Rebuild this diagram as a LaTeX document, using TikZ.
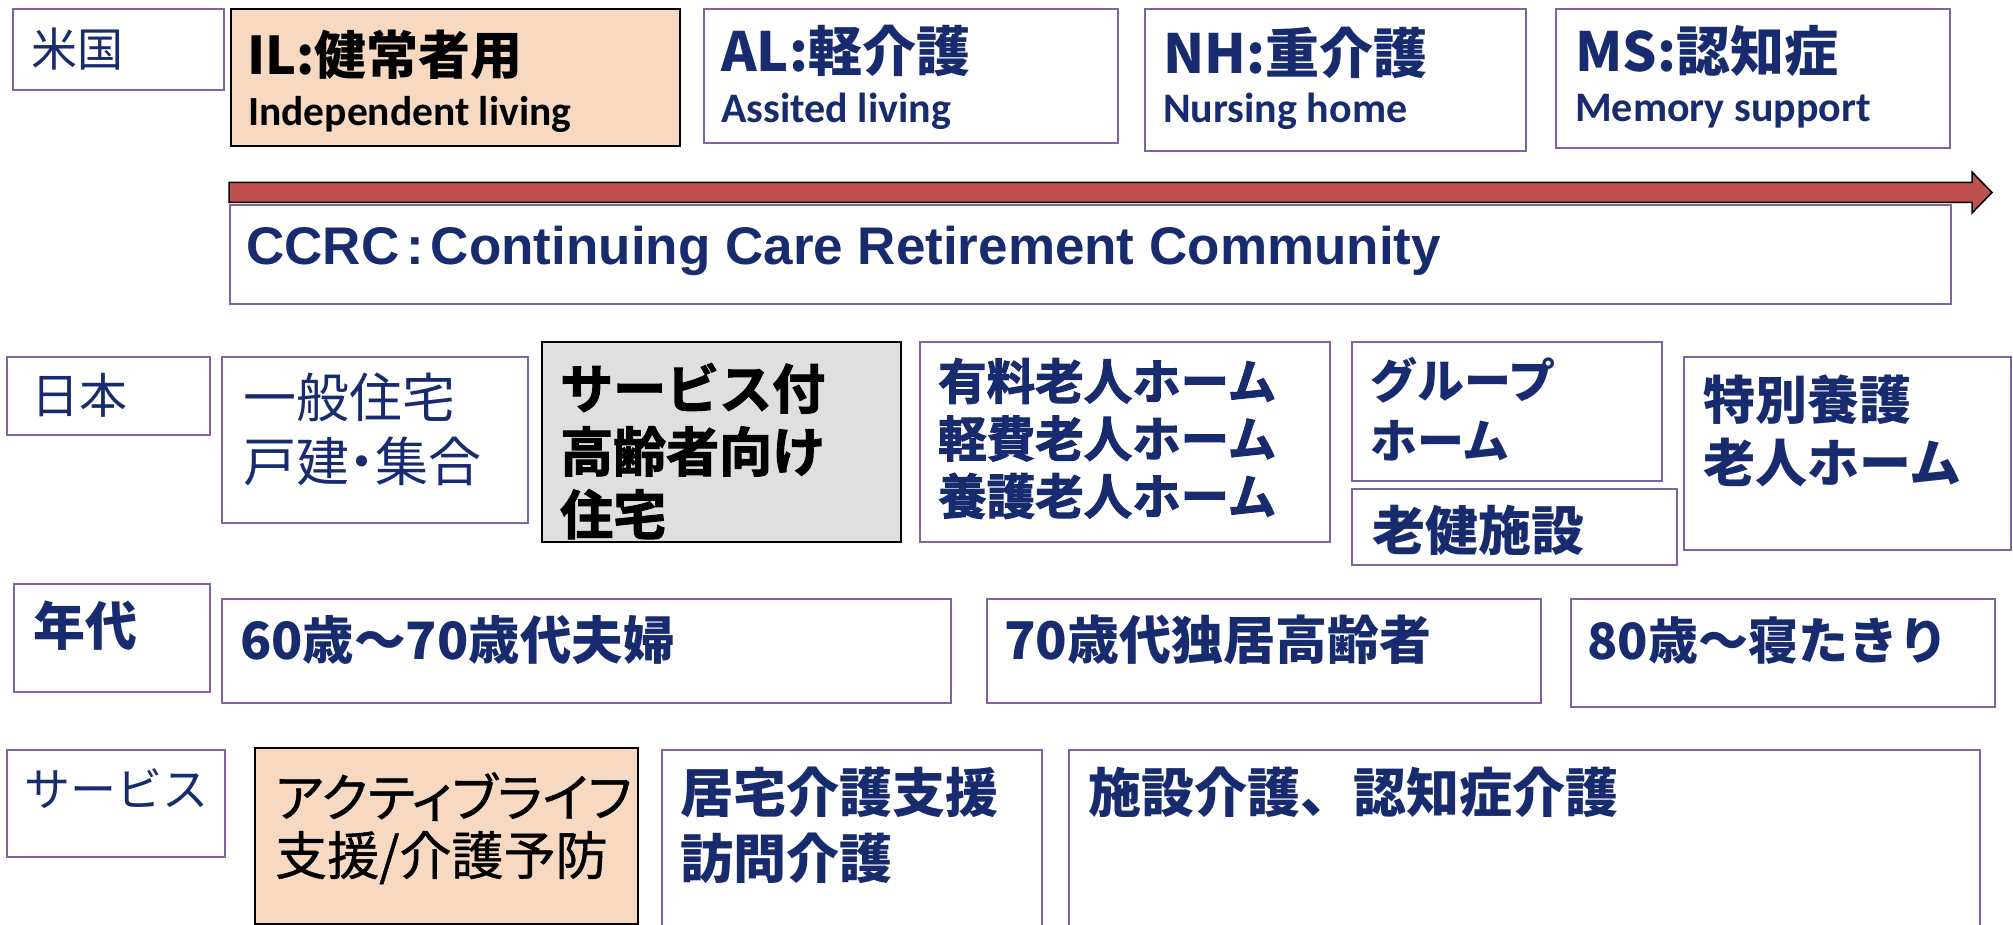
\documentclass[tikz,border=0pt]{standalone}
\usepackage{fontspec}
\newfontfamily\jpfont{Noto Sans CJK JP}
\newfontfamily\jppfont[RawFeature=+palt]{Noto Sans CJK JP}
\newfontfamily\jppmed[RawFeature=+palt, FakeBold=0.8]{Noto Sans CJK JP}
\newfontfamily\jpheavy[FakeBold=2.2]{Noto Sans CJK JP Bold}
\newfontfamily\calfont{Carlito}
\newfontfamily\arifont{Liberation Sans}
\newcommand\fz[2]{\fontsize{#1}{#2}\selectfont}
\definecolor{navy}{HTML}{182B6E}
\definecolor{boxpurple}{HTML}{8064A2}
\definecolor{peach}{HTML}{F6D9C0}
\definecolor{lgray}{HTML}{DFDFDF}
\definecolor{arrowred}{HTML}{C0504D}
\tikzset{
  pbox/.style={draw=boxpurple, line width=2pt, fill=white, inner sep=0pt, anchor=north west},
  kbox/.style={draw=black, line width=2pt, inner sep=0pt, anchor=north west},
  lbl/.style={inner sep=0pt, anchor=north west, align=left, text=navy},
}
\begin{document}
\begin{tikzpicture}[x=1pt,y=-1pt]
\useasboundingbox (0,0) rectangle (2013,925);
\clip (0,0) rectangle (2013,925);
% ---- boxes ----
\node[pbox, minimum width=211pt, minimum height=81pt] (us) at (12,8) {};
\node[kbox, fill=peach, minimum width=449pt, minimum height=137pt] (il) at (230,8) {};
\node[pbox, minimum width=414pt, minimum height=134pt] (al) at (703,8) {};
\node[pbox, minimum width=381pt, minimum height=142pt] (nh) at (1144,8) {};
\node[pbox, minimum width=394pt, minimum height=139pt] (ms) at (1555,8) {};
\node[pbox, minimum width=1721pt, minimum height=99pt] (ccrc) at (229,204) {};
\node[pbox, minimum width=203pt, minimum height=78pt] (jp) at (6,356) {};
\node[pbox, minimum width=306pt, minimum height=166pt] (house) at (221,356) {};
\node[kbox, fill=lgray, minimum width=359pt, minimum height=200pt] (sakj) at (541,341) {};
\node[pbox, minimum width=410pt, minimum height=200pt] (yuryo) at (919,341) {};
\node[pbox, minimum width=310pt, minimum height=139pt] (group) at (1351,341) {};
\node[pbox, minimum width=325pt, minimum height=76pt] (roken) at (1351,488) {};
\node[pbox, minimum width=327pt, minimum height=193pt] (toku) at (1683,356) {};
\node[pbox, minimum width=196pt, minimum height=108pt] (nendai) at (13,583) {};
\node[pbox, minimum width=729pt, minimum height=104pt] (age1) at (221,598) {};
\node[pbox, minimum width=554pt, minimum height=104pt] (age2) at (986,598) {};
\node[pbox, minimum width=424pt, minimum height=108pt] (age3) at (1570,598) {};
\node[pbox, minimum width=218pt, minimum height=107pt] (svc) at (6,749) {};
\node[kbox, fill=peach, minimum width=383pt, minimum height=176pt] (active) at (254,747) {};
\node[pbox, minimum width=380pt, minimum height=220pt] (kyo) at (661,749) {};
\node[pbox, minimum width=911pt, minimum height=220pt] (shi) at (1068,749) {};
% ---- arrow ----
\path[draw=black, line width=1.5pt, fill=arrowred]
  (229,182.5) -- (1972,182.5) -- (1972,172) -- (1992,192.5) -- (1972,213)
  -- (1972,202.5) -- (229,202.5) -- cycle;
% ---- texts ----
\node[lbl, font=\jpfont\fz{46}{55}] (t-us) at (31,28) {米国};
\node[lbl, font=\jpfont\bfseries\fz{52}{60}, text=black] (t-il) at (247,30) {IL:健常者用};
\node[lbl, font=\calfont\bfseries\fz{41.5}{50}, text=black] (t-il2) at (248,96) {Independent living};
\node[lbl, font=\jpfont\bfseries\fz{54}{60}] (t-al) at (721,25) {AL:軽介護};
\node[lbl, font=\calfont\bfseries\fz{42}{50}] (t-al2) at (721,93) {Assited living};
\node[lbl, font=\jpfont\bfseries\fz{54}{60}] (t-nh) at (1163,27) {NH:重介護};
\node[lbl, font=\calfont\bfseries\fz{42}{50}] (t-nh2) at (1163,93) {Nursing home};
\node[lbl, font=\jpfont\bfseries\fz{54}{60}] (t-ms) at (1575,25) {MS:認知症};
\node[lbl, font=\calfont\bfseries\fz{42}{50}] (t-ms2) at (1575,94) {Memory support};
\node[lbl, font=\arifont\bfseries\fz{53}{60}] (t-ccrc) at (246,226) {CCRC\hspace{7pt}:\hspace{7pt}Continuing Care Retirement Community};
\node[lbl, font=\jpfont\fz{48}{56}] (t-jp) at (31,373) {日本};
\node[lbl, font=\jppfont\fz{53}{64}] (t-house) at (243,373) {一般住宅\\戸建・集合};
\node[lbl, font=\jpheavy\fz{53}{63}, text=black] (t-sakj) at (560,363) {サービス付\\高齢者向け\\住宅};
\node[lbl, font=\jpheavy\fz{48.5}{57.5}] (t-yuryo) at (938,358) {有料老人ホーム\\軽費老人ホーム\\養護老人ホーム};
\node[lbl, font=\jpfont\bfseries\fz{47}{60}] (t-group) at (1370,357) {グループ\\ホーム};
\node[lbl, font=\jpfont\bfseries\fz{53}{60}] (t-roken) at (1372,505) {老健施設};
\node[lbl, font=\jpfont\bfseries\fz{52}{63}] (t-toku) at (1703,375) {特別養護\\老人ホーム};
\node[lbl, font=\jpfont\bfseries\fz{52}{60}] (t-nendai) at (33,601) {年代};
\node[lbl, font=\jpfont\bfseries\fz{51.5}{60}] (t-age1) at (240,615) {60歳～70歳代夫婦};
\node[lbl, font=\jpfont\bfseries\fz{52}{60}] (t-age2) at (1004,615) {70歳代独居高齢者};
\node[lbl, font=\jpfont\bfseries\fz{50}{60}] (t-age3) at (1587,616) {80歳～寝たきり};
\node[lbl, font=\jpfont\fz{46}{55}] (t-svc) at (24,768) {サービス};
\node[lbl, font=\jppmed\fz{52}{58}, text=black] (t-active) at (275,772) {アクティブライフ\\支援/介護予防};
\node[lbl, font=\jpfont\bfseries\fz{53}{66}] (t-kyo) at (680,767) {居宅介護支援\\訪問介護};
\node[lbl, font=\jpfont\bfseries\fz{53}{60}] (t-shi) at (1088,767) {施設介護、認知症介護};
\end{tikzpicture}
\end{document}
